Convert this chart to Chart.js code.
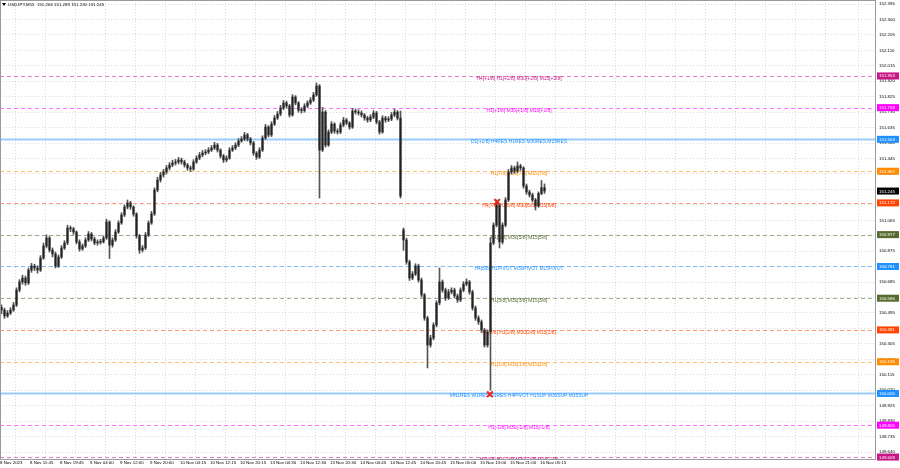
<!DOCTYPE html>
<html>
<head>
<meta charset="utf-8">
<script src="https://cdn.jsdelivr.net/npm/chart.js@4.4.0/dist/chart.umd.min.js"></script>
<style>
html, body { margin: 0; padding: 0; background: #fff; }
</style>
</head>
<body>
<canvas id="myChart" width="900" height="468"></canvas>
<script>
var titleText = 'USDJPY,M15  151.266 151.289 151.230 151.245';
var lastPrice = 151.245;

// x axis labels, one every 10 candles
var dateLabels = ['8 Nov 2023', '8 Nov 11:45', '8 Nov 19:45', '9 Nov 04:00', '9 Nov 12:00', '9 Nov 20:00',
    '10 Nov 04:15', '10 Nov 12:15', '10 Nov 20:15', '13 Nov 04:30', '13 Nov 12:30', '13 Nov 20:30',
    '14 Nov 04:45', '14 Nov 12:45', '14 Nov 20:45', '15 Nov 05:00', '15 Nov 13:00', '15 Nov 21:00', '16 Nov 05:15'];

var priceTicks = [152.395, 152.300, 152.205, 152.110, 152.015, 151.920, 151.825, 151.730, 151.635, 151.540,
    151.445, 151.350, 151.255, 151.160, 151.065, 150.970, 150.875, 150.780, 150.685, 150.590,
    150.495, 150.400, 150.305, 150.210, 150.115, 150.020, 149.925, 149.830, 149.735, 149.640];

var opens = [
    150.530, 150.513, 150.477, 150.495, 150.513, 150.544, 150.636, 150.686, 150.710, 150.680,
    150.759, 150.784, 150.772, 150.759, 150.833, 150.907, 150.956, 150.882, 150.858, 150.784,
    150.839, 150.895, 150.926, 151.018, 151.012, 150.993, 150.932, 150.889, 150.907, 150.944,
    150.981, 150.950, 150.926, 150.930, 150.932, 150.956, 151.055, 150.913, 150.944, 150.993,
    151.049, 151.098, 151.147, 151.172, 151.147, 151.104, 150.969, 150.882, 150.895, 150.975,
    151.049, 151.104, 151.251, 151.313, 151.344, 151.362, 151.387, 151.405, 151.418, 151.424,
    151.436, 151.424, 151.405, 151.387, 151.381, 151.424, 151.448, 151.467, 151.479, 151.485,
    151.497, 151.510, 151.528, 151.497, 151.461, 151.436, 151.448, 151.497, 151.510, 151.528,
    151.553, 151.565, 151.590, 151.565, 151.541, 151.479, 151.454, 151.497, 151.571, 151.639,
    151.590, 151.657, 151.694, 151.719, 151.756, 151.787, 151.768, 151.713, 151.823, 151.787,
    151.743, 151.740, 151.768, 151.787, 151.805, 151.836, 151.891, 151.497, 151.731, 151.528,
    151.608, 151.657, 151.614, 151.608, 151.651, 151.682, 151.664, 151.639, 151.737, 151.731,
    151.725, 151.713, 151.694, 151.682, 151.700, 151.725, 151.670, 151.608, 151.694, 151.682,
    151.688, 151.713, 151.731, 151.694, 151.006, 150.944, 150.809, 150.710, 150.735, 150.784,
    150.698, 150.606, 150.464, 150.298, 150.341, 150.421, 150.557, 150.686, 150.636, 150.587,
    150.624, 150.636, 150.600, 150.575, 150.636, 150.673, 150.686, 150.624, 150.526, 150.464,
    150.440, 150.390, 150.298, 150.378, 150.926, 151.036, 151.159, 150.932, 151.036, 151.190,
    151.362, 151.387, 151.368, 151.399, 151.387, 151.276, 151.239, 151.221, 151.190, 151.153,
    151.230, 151.266
];
var highs = [
    150.545, 150.525, 150.510, 150.528, 150.560, 150.650, 150.700, 150.728, 150.722, 150.772,
    150.800, 150.795, 150.785, 150.848, 150.925, 150.975, 150.965, 150.895, 150.870, 150.852,
    150.910, 150.940, 151.035, 151.030, 151.022, 151.000, 150.945, 150.920, 150.958, 150.996,
    150.990, 150.962, 150.945, 150.948, 150.970, 151.072, 151.062, 150.958, 151.008, 151.062,
    151.112, 151.160, 151.190, 151.182, 151.155, 151.112, 150.978, 150.910, 150.990, 151.062,
    151.120, 151.265, 151.330, 151.360, 151.378, 151.402, 151.420, 151.435, 151.440, 151.452,
    151.448, 151.435, 151.415, 151.400, 151.438, 151.462, 151.482, 151.495, 151.500, 151.512,
    151.525, 151.545, 151.538, 151.505, 151.470, 151.462, 151.512, 151.525, 151.542, 151.568,
    151.580, 151.606, 151.600, 151.575, 151.550, 151.488, 151.512, 151.585, 151.655, 151.648,
    151.672, 151.710, 151.735, 151.772, 151.802, 151.798, 151.778, 151.838, 151.832, 151.795,
    151.758, 151.782, 151.800, 151.820, 151.852, 151.910, 151.900, 151.760, 151.740, 151.622,
    151.672, 151.665, 151.628, 151.665, 151.698, 151.692, 151.672, 151.752, 151.750, 151.745,
    151.738, 151.722, 151.705, 151.715, 151.740, 151.735, 151.680, 151.708, 151.705, 151.702,
    151.728, 151.748, 151.740, 151.737, 151.018, 150.955, 150.820, 150.750, 150.798, 150.795,
    150.710, 150.615, 150.475, 150.358, 150.435, 150.570, 150.772, 150.698, 150.648, 150.640,
    150.650, 150.648, 150.612, 150.650, 150.688, 150.705, 150.695, 150.635, 150.538, 150.478,
    150.452, 150.400, 150.392, 150.960, 151.050, 151.190, 151.170, 151.050, 151.205, 151.378,
    151.402, 151.398, 151.424, 151.410, 151.395, 151.288, 151.250, 151.232, 151.200, 151.240,
    151.310, 151.289
];
var lows = [
    150.490, 150.462, 150.468, 150.485, 150.505, 150.535, 150.625, 150.672, 150.665, 150.670,
    150.745, 150.755, 150.740, 150.750, 150.825, 150.895, 150.870, 150.840, 150.772, 150.775,
    150.830, 150.885, 150.915, 150.995, 150.978, 150.920, 150.875, 150.880, 150.898, 150.935,
    150.938, 150.915, 150.912, 150.918, 150.925, 150.948, 150.830, 150.900, 150.935, 150.985,
    151.040, 151.088, 151.135, 151.132, 151.090, 150.955, 150.862, 150.870, 150.885, 150.965,
    151.040, 151.095, 151.240, 151.300, 151.330, 151.350, 151.375, 151.395, 151.405, 151.412,
    151.410, 151.392, 151.372, 151.365, 151.372, 151.415, 151.438, 151.455, 151.468, 151.475,
    151.488, 151.500, 151.485, 151.448, 151.420, 151.425, 151.440, 151.488, 151.500, 151.518,
    151.545, 151.555, 151.552, 151.528, 151.465, 151.440, 151.445, 151.488, 151.562, 151.578,
    151.580, 151.648, 151.685, 151.708, 151.745, 151.755, 151.700, 151.705, 151.775, 151.730,
    151.725, 151.730, 151.758, 151.778, 151.795, 151.828, 151.202, 151.488, 151.515, 151.520,
    151.598, 151.600, 151.595, 151.598, 151.640, 151.652, 151.625, 151.630, 151.718, 151.712,
    151.700, 151.680, 151.668, 151.672, 151.690, 151.658, 151.595, 151.600, 151.668, 151.672,
    151.678, 151.702, 151.682, 151.202, 150.880, 150.795, 150.695, 150.700, 150.725, 150.685,
    150.592, 150.450, 150.157, 150.285, 150.330, 150.410, 150.545, 150.622, 150.572, 150.578,
    150.612, 150.588, 150.560, 150.565, 150.625, 150.662, 150.610, 150.512, 150.450, 150.425,
    150.375, 150.285, 150.285, 150.020, 150.915, 151.025, 150.895, 150.920, 151.025, 151.180,
    151.350, 151.355, 151.358, 151.372, 151.262, 151.225, 151.208, 151.178, 151.128, 151.145,
    151.222, 151.230
];
var closes = [
    150.513, 150.477, 150.495, 150.513, 150.544, 150.636, 150.686, 150.710, 150.680, 150.759,
    150.784, 150.772, 150.759, 150.833, 150.907, 150.956, 150.882, 150.858, 150.784, 150.839,
    150.895, 150.926, 151.018, 151.012, 150.993, 150.932, 150.889, 150.907, 150.944, 150.981,
    150.950, 150.926, 150.930, 150.932, 150.956, 151.055, 150.913, 150.944, 150.993, 151.049,
    151.098, 151.147, 151.172, 151.147, 151.104, 150.969, 150.882, 150.895, 150.975, 151.049,
    151.104, 151.251, 151.313, 151.344, 151.362, 151.387, 151.405, 151.418, 151.424, 151.436,
    151.424, 151.405, 151.387, 151.381, 151.424, 151.448, 151.467, 151.479, 151.485, 151.497,
    151.510, 151.528, 151.497, 151.461, 151.436, 151.448, 151.497, 151.510, 151.528, 151.553,
    151.565, 151.590, 151.565, 151.541, 151.479, 151.454, 151.497, 151.571, 151.639, 151.590,
    151.657, 151.694, 151.719, 151.756, 151.787, 151.768, 151.713, 151.823, 151.787, 151.743,
    151.740, 151.768, 151.787, 151.805, 151.836, 151.891, 151.497, 151.731, 151.528, 151.608,
    151.657, 151.614, 151.608, 151.651, 151.682, 151.664, 151.639, 151.737, 151.731, 151.725,
    151.713, 151.694, 151.682, 151.700, 151.725, 151.670, 151.608, 151.694, 151.682, 151.688,
    151.713, 151.731, 151.694, 151.215, 150.944, 150.809, 150.710, 150.735, 150.784, 150.698,
    150.606, 150.464, 150.298, 150.341, 150.421, 150.557, 150.686, 150.636, 150.587, 150.624,
    150.636, 150.600, 150.575, 150.636, 150.673, 150.686, 150.624, 150.526, 150.464, 150.440,
    150.390, 150.298, 150.378, 150.926, 151.036, 151.159, 150.932, 151.036, 151.190, 151.362,
    151.387, 151.368, 151.399, 151.387, 151.276, 151.239, 151.221, 151.190, 151.153, 151.230,
    151.266, 151.245
];

// murrey levels drawn across the chart
var levelPrices = [151.953, 151.758, 151.563, 151.367, 151.172, 150.977, 150.781, 150.586, 150.391, 150.195, 150.000, 149.805, 149.609];
var levelTexts = [
    'H4[+1/8] H1[+2/8] M30[+2/8] M15[+2/8]',
    'H1[+1/8] M30[+1/8] M15[+1/8]',
    'D1[+1/8] H4RES H1RES M30RES M15RES',
    'H1[7/8] M30[7/8] M15[7/8]',
    'H4[7/8] H1[6/8] M30[6/8] M15[6/8]',
    'H1[5/8] M30[5/8] M15[5/8]',
    'H4[6/8] H1PIVOT M30PIVOT M15PIVOT',
    'H1[3/8] M30[3/8] M15[3/8]',
    'H4[5/8] H1[2/8] M30[2/8] M15[2/8]',
    'H1[1/8] M30[1/8] M15[1/8]',
    'MN1RES W1RES D1RES H4PIVOT H1SUP M30SUP M15SUP',
    'H1[-1/8] M30[-1/8] M15[-1/8]',
    'H4[4/8] H1[-2/8] M30[-2/8] M15[-2/8]'
];

// red crosses
var markerSlots = [163.3, 165.7];
var markerPrices = [149.995, 151.178];

// styles
var levelColors = ['#c71585', '#ff00ff', '#1e90ff', '#ff8c00', '#ff4500', '#556b2f', '#1e90ff',
    '#556b2f', '#ff4500', '#ff8c00', '#1e90ff', '#ff00ff', '#c71585'];
var levelSolid = [false, false, true, false, false, false, false, false, false, false, true, false, false];
var smallFont = '4.4px "Liberation Sans", Arial, sans-serif';
var levelFont = '4.9px "Liberation Sans", Arial, sans-serif';

var wicks = lows.map(function (l, i) { return { x: i + 0.5, y: [l, highs[i]] }; });
var bodies = opens.map(function (o, i) { return { x: i + 0.5, y: [o, closes[i]] }; });
var crosses = markerSlots.map(function (s, i) { return { x: s, y: markerPrices[i] }; });

var levelsPlugin = {
    id: 'levels',
    beforeDatasetsDraw: function (chart) {
        var ctx = chart.ctx, area = chart.chartArea;
        var ys = chart.scales.y, xs = chart.scales.x;
        ctx.save();
        ctx.beginPath();
        ctx.rect(area.left, area.top, area.right - area.left, area.bottom - area.top);
        ctx.clip();
        levelPrices.forEach(function (p, i) {
            var py = Math.round(ys.getPixelForValue(p)) + 0.5;
            ctx.strokeStyle = levelColors[i];
            ctx.globalAlpha = levelSolid[i] ? 0.45 : 0.55;
            ctx.lineWidth = levelSolid[i] ? 2 : 1;
            ctx.setLineDash(levelSolid[i] ? [] : [4, 3]);
            ctx.beginPath();
            ctx.moveTo(area.left, py);
            ctx.lineTo(area.right, py);
            ctx.stroke();
            ctx.globalAlpha = 1;
            ctx.fillStyle = levelColors[i];
            ctx.font = levelFont;
            ctx.textAlign = 'center';
            ctx.textBaseline = 'middle';
            ctx.fillText(levelTexts[i], xs.getPixelForValue(173), py + 2.5);
        });
        ctx.restore();
    },
    afterDraw: function (chart) {
        var ctx = chart.ctx, area = chart.chartArea, ys = chart.scales.y;
        ctx.save();
        // frame
        ctx.strokeStyle = '#9a9a9a';
        ctx.lineWidth = 1;
        ctx.strokeRect(area.left + 0.5, area.top + 0.5, area.right - area.left - 1, area.bottom - area.top);
        // price boxes on the right axis
        ctx.font = smallFont;
        ctx.textAlign = 'left';
        ctx.textBaseline = 'middle';
        function box(p, color) {
            var py = ys.getPixelForValue(p);
            ctx.fillStyle = color;
            ctx.fillRect(area.right + 1, py - 3.5, 22, 7);
            ctx.fillStyle = '#fff';
            ctx.fillText(p.toFixed(3), area.right + 3, py + 0.3);
        }
        levelPrices.forEach(function (p, i) { box(p, levelColors[i]); });
        box(lastPrice, '#000');
        // title
        ctx.fillStyle = '#000';
        ctx.beginPath();
        ctx.moveTo(2, 3); ctx.lineTo(6, 3); ctx.lineTo(4, 6); ctx.closePath();
        ctx.fill();
        ctx.textBaseline = 'middle';
        ctx.fillText(titleText, 8, 4.5);
        ctx.restore();
    }
};

var ctx = document.getElementById('myChart');

var myChart = new Chart(ctx, {
    type: 'bar',
    data: {
        datasets: [{
            label: 'wick',
            data: wicks,
            backgroundColor: '#555',
            barThickness: 1,
            grouped: false,
            order: 2
        }, {
            label: 'body',
            data: bodies,
            backgroundColor: '#222',
            barThickness: 1.5,
            minBarLength: 1,
            grouped: false,
            order: 1
        }, {
            type: 'scatter',
            label: 'marks',
            data: crosses,
            pointStyle: 'crossRot',
            radius: 4,
            borderWidth: 2,
            borderColor: '#e8261b',
            backgroundColor: '#e8261b',
            order: 0
        }]
    },
    options: {
        responsive: false,
        animation: false,
        layout: { padding: 0, autoPadding: false },
        plugins: {
            legend: { display: false },
            tooltip: { enabled: false }
        },
        scales: {
            x: {
                type: 'linear',
                position: 'bottom',
                min: 0,
                max: 292,
                offset: false,
                grid: { color: 'rgba(0,0,0,0.14)', drawTicks: false },
                border: { display: false, dash: [1, 2] },
                ticks: {
                    stepSize: 10,
                    autoSkip: false,
                    maxRotation: 0,
                    align: 'start',
                    padding: 1,
                    color: '#000',
                    font: { family: '"Liberation Sans", Arial, sans-serif', size: 4.4 },
                    callback: function (v) { return dateLabels[Math.round(v / 10)] || ''; }
                },
                afterFit: function (scale) {
                    scale.height = 9;
                    scale.paddingLeft = 0;
                    scale.paddingRight = 0;
                }
            },
            y: {
                position: 'right',
                min: 149.597,
                max: 152.420,
                grid: { color: 'rgba(0,0,0,0.14)', drawTicks: false },
                border: { display: false, dash: [1, 2] },
                afterBuildTicks: function (scale) {
                    scale.ticks = priceTicks.map(function (v) { return { value: v }; });
                },
                ticks: {
                    padding: 3,
                    color: '#000',
                    font: { family: '"Liberation Sans", Arial, sans-serif', size: 4.4 },
                    callback: function (v) { return v.toFixed(3); }
                },
                afterFit: function (scale) {
                    scale.width = 24;
                    scale.paddingTop = 0;
                    scale.paddingBottom = 0;
                }
            }
        }
    },
    plugins: [levelsPlugin]
});
</script>
</body>
</html>
